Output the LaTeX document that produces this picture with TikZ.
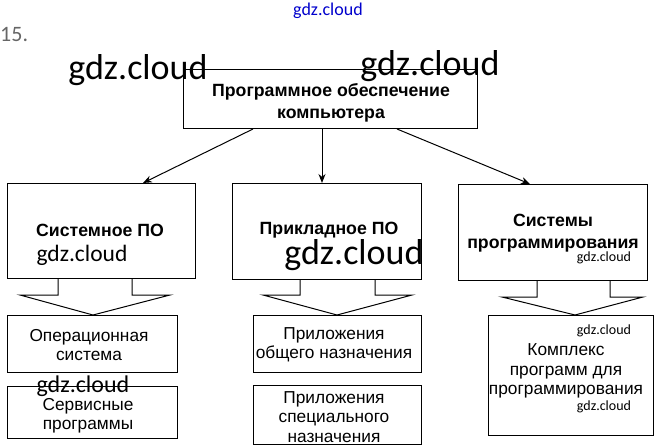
\documentclass[tikz,border=0pt]{standalone}
\usepackage{fontspec}
\setmainfont{Liberation Sans}
\newfontfamily\wmfont{Carlito}
\usetikzlibrary{arrows.meta}
\begin{document}
\begin{tikzpicture}[x=1pt,y=-1pt,
  box/.style={draw=black,line width=1pt,anchor=north west,inner sep=0pt},
  hd/.style={font=\fontsize{17.7}{22}\selectfont\bfseries,align=center,inner sep=0pt},
  tx/.style={font=\fontsize{17.3}{19.5}\selectfont,align=center,inner sep=0pt},
  wm/.style={font=\wmfont,inner sep=0pt},
  arr/.style={line width=1pt,-{Stealth[length=9pt,width=7pt]}},
  barrow/.style={line width=1pt,line join=miter}]
\useasboundingbox (0,0) rectangle (657,447);
% boxes
\node[box,minimum width=294pt,minimum height=59pt] (top) at (183,69) {};
\node[box,minimum width=188pt,minimum height=95pt] (sys) at (7,183) {};
\node[box,minimum width=189pt,minimum height=96pt] (app) at (232,183) {};
\node[box,minimum width=189pt,minimum height=96pt] (prog) at (458,184) {};
\node[box,minimum width=170pt,minimum height=57pt] (os) at (7,315) {};
\node[box,minimum width=170pt,minimum height=52pt] (svc) at (7,386) {};
\node[box,minimum width=168pt,minimum height=57pt] (gen) at (253,315) {};
\node[box,minimum width=168pt,minimum height=59pt] (spec) at (253,385) {};
\node[box,minimum width=165pt,minimum height=120pt] (kit) at (488,315) {};
% texts
\node[hd] (ttop) at (331,103) {Программное обеспечение\\компьютера};
\node[hd] (tsys) at (100,230) {Системное ПО};
\node[hd] (tapp) at (329,230) {Прикладное ПО};
\node[hd] (tprog) at (553,233) {Системы\\программирования};
\node[tx] (tos) at (89,345) {Операционная\\система};
\node[tx] (tsvc) at (88,416) {Сервисные\\программы};
\node[tx] (tgen) at (334,345) {Приложения\\общего назначения};
\node[tx] (tspec) at (334,417) {Приложения\\специального\\назначения};
\node[tx] (tkit) at (566,371) {Комплекс\\программ для\\программирования};
% arrows from top
\draw[arr] ([xshift=70pt]top.south west) -- ([xshift=136pt]sys.north west);
\draw[arr] ([xshift=139pt]top.south west) -- ([xshift=90pt]app.north west);
\draw[arr] ([xshift=214pt]top.south west) -- ([xshift=72pt]prog.north west);
% block arrows
\coordinate (tip1) at ([xshift=86pt]os.north west);
\coordinate (tip2) at ([xshift=84pt]gen.north west);
\coordinate (tip3) at ([xshift=87pt]kit.north west);
\draw[barrow] ([xshift=51pt]sys.south west) -- (58,295) -- (20,295) -- (tip1) -- (170,295) -- (132,295) -- ([xshift=125pt]sys.south west);
\draw[barrow] ([xshift=68pt]app.south west) -- (300,295) -- (263,295) -- (tip2) -- (412,295) -- (375,295) -- ([xshift=143pt]app.south west);
\draw[barrow] ([xshift=79pt]prog.south west) -- (537,297) -- (502,297) -- (tip3) -- (643,297) -- (610,297) -- ([xshift=152pt]prog.south west);
% watermarks and heading
\node[wm,text=blue!80!black,font=\wmfont\fontsize{18}{18}\selectfont] (wm0) at (328,11) {gdz.cloud};
\node[wm,text=black!60,font=\wmfont\fontsize{22}{22}\selectfont,anchor=west] (num) at (0,35) {15.};
\node[wm,font=\wmfont\fontsize{36}{36}\selectfont] (wm1) at (138,70) {gdz.cloud};
\node[wm,font=\wmfont\fontsize{36}{36}\selectfont] (wm2) at (430,66) {gdz.cloud};
\node[wm,font=\wmfont\fontsize{23.5}{23.5}\selectfont] (wm3) at (82,255) {gdz.cloud};
\node[wm,font=\wmfont\fontsize{36}{36}\selectfont] (wm4) at (354,255) {gdz.cloud};
\node[wm,font=\wmfont\fontsize{14}{14}\selectfont] (wm5) at (604,258) {gdz.cloud};
\node[wm,font=\wmfont\fontsize{24}{24}\selectfont] (wm6) at (83,386) {gdz.cloud};
\node[wm,font=\wmfont\fontsize{14}{14}\selectfont] (wm7) at (604,331) {gdz.cloud};
\node[wm,font=\wmfont\fontsize{14}{14}\selectfont] (wm8) at (604,407) {gdz.cloud};
\end{tikzpicture}
\end{document}
